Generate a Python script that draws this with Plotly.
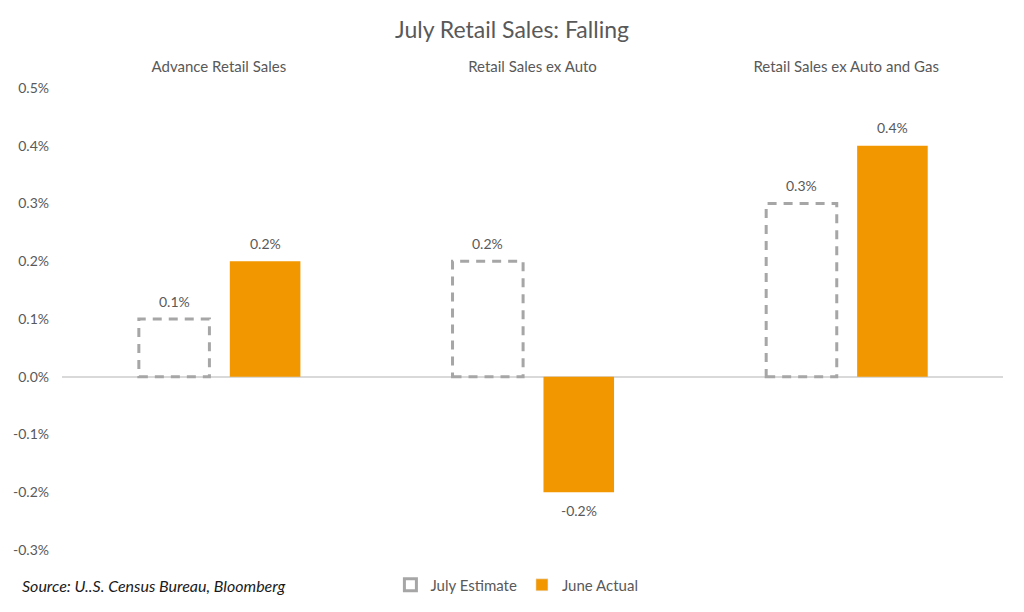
import plotly.graph_objects as go

# -----------------------------
# Data
# -----------------------------
categories = ["Advance Retail Sales", "Retail Sales ex Auto", "Retail Sales ex Auto and Gas"]
july_estimate = [0.001, 0.002, 0.003]
june_actual = [0.002, -0.002, 0.004]
y_ticks = [-0.003, -0.002, -0.001, 0.0, 0.001, 0.002, 0.003, 0.004, 0.005]
y_tick_labels = ["-0.3%", "-0.2%", "-0.1%", "0.0%", "0.1%", "0.2%", "0.3%", "0.4%", "0.5%"]

GRAY = "#A6A6A6"
ORANGE = "#F29700"
TEXT = "#595959"
FONT = "Lato"

BAR_W = 0.225
EST_OFF = -0.255
ACT_OFF = 0.035

fig = go.Figure()

# estimate bars: transparent body, dashed outline drawn as shapes below
fig.add_trace(go.Bar(
    x=categories, y=july_estimate,
    width=BAR_W, offset=EST_OFF,
    marker=dict(color="rgba(0,0,0,0)", line=dict(width=0)),
    showlegend=False, name="July Estimate", hoverinfo="y",
))

fig.add_trace(go.Bar(
    x=categories, y=june_actual,
    width=BAR_W, offset=ACT_OFF,
    marker=dict(color=ORANGE, line=dict(width=0)),
    showlegend=False, name="June Actual", hoverinfo="y",
))

# legend-only entries
fig.add_trace(go.Bar(
    x=categories, y=[None] * len(categories), name="July Estimate",
    marker=dict(color="white", line=dict(color=GRAY, width=3)),
))
fig.add_trace(go.Bar(
    x=categories, y=[None] * len(categories), name="June Actual",
    marker=dict(color=ORANGE),
))

for i, v in enumerate(july_estimate):
    fig.add_shape(
        type="rect", xref="x", yref="y",
        x0=i + EST_OFF, x1=i + EST_OFF + BAR_W, y0=0, y1=v,
        line=dict(color=GRAY, width=3, dash="9px,7px"),
        fillcolor="rgba(0,0,0,0)",
    )

# data labels
for off, series in [(EST_OFF, july_estimate), (ACT_OFF, june_actual)]:
    for i, v in enumerate(series):
        fig.add_annotation(
            x=i + off + BAR_W / 2, y=v, xref="x", yref="y",
            text=f"{v * 100:.1f}%", showarrow=False,
            yshift=18 if v >= 0 else -18, yanchor="middle",
            font=dict(size=14, color=TEXT, family=FONT),
        )

fig.add_annotation(
    text="<i>Source: U..S. Census Bureau, Bloomberg</i>",
    xref="paper", yref="paper", x=-0.0446, y=-0.076,
    xanchor="left", yanchor="middle", showarrow=False,
    font=dict(size=16, color="#1a1a1a", family=FONT),
)

# page body keeps an 8px margin, so the figure is sized to fit inside the window
fig.update_layout(
    width=1008, height=596,
    margin=dict(l=54, r=13, t=80, b=54, autoexpand=False),
    paper_bgcolor="white", plot_bgcolor="white",
    font=dict(family=FONT, color=TEXT),
    title=dict(text="July Retail Sales: Falling", x=0.5, xanchor="center",
               y=0.963, yanchor="middle", font=dict(size=23, color=TEXT, family=FONT)),
    barmode="overlay",
    showlegend=True,
    legend=dict(orientation="h", x=0.349, xanchor="left", y=-0.076, yanchor="middle",
                font=dict(size=15, color=TEXT, family=FONT), traceorder="normal",
                itemwidth=30),
    xaxis=dict(side="top", showline=False, showgrid=False, ticks="", automargin=False,
               tickfont=dict(size=15, color=TEXT, family=FONT), ticklabelstandoff=12),
    yaxis=dict(range=[-0.003, 0.005], tickvals=y_ticks, ticktext=y_tick_labels,
               automargin=False, showgrid=False,
               zeroline=True, zerolinecolor="#D9D9D9", zerolinewidth=1.5,
               tickfont=dict(size=14, color=TEXT, family=FONT), ticklabelstandoff=12),
)

fig.write_html("out.html")
